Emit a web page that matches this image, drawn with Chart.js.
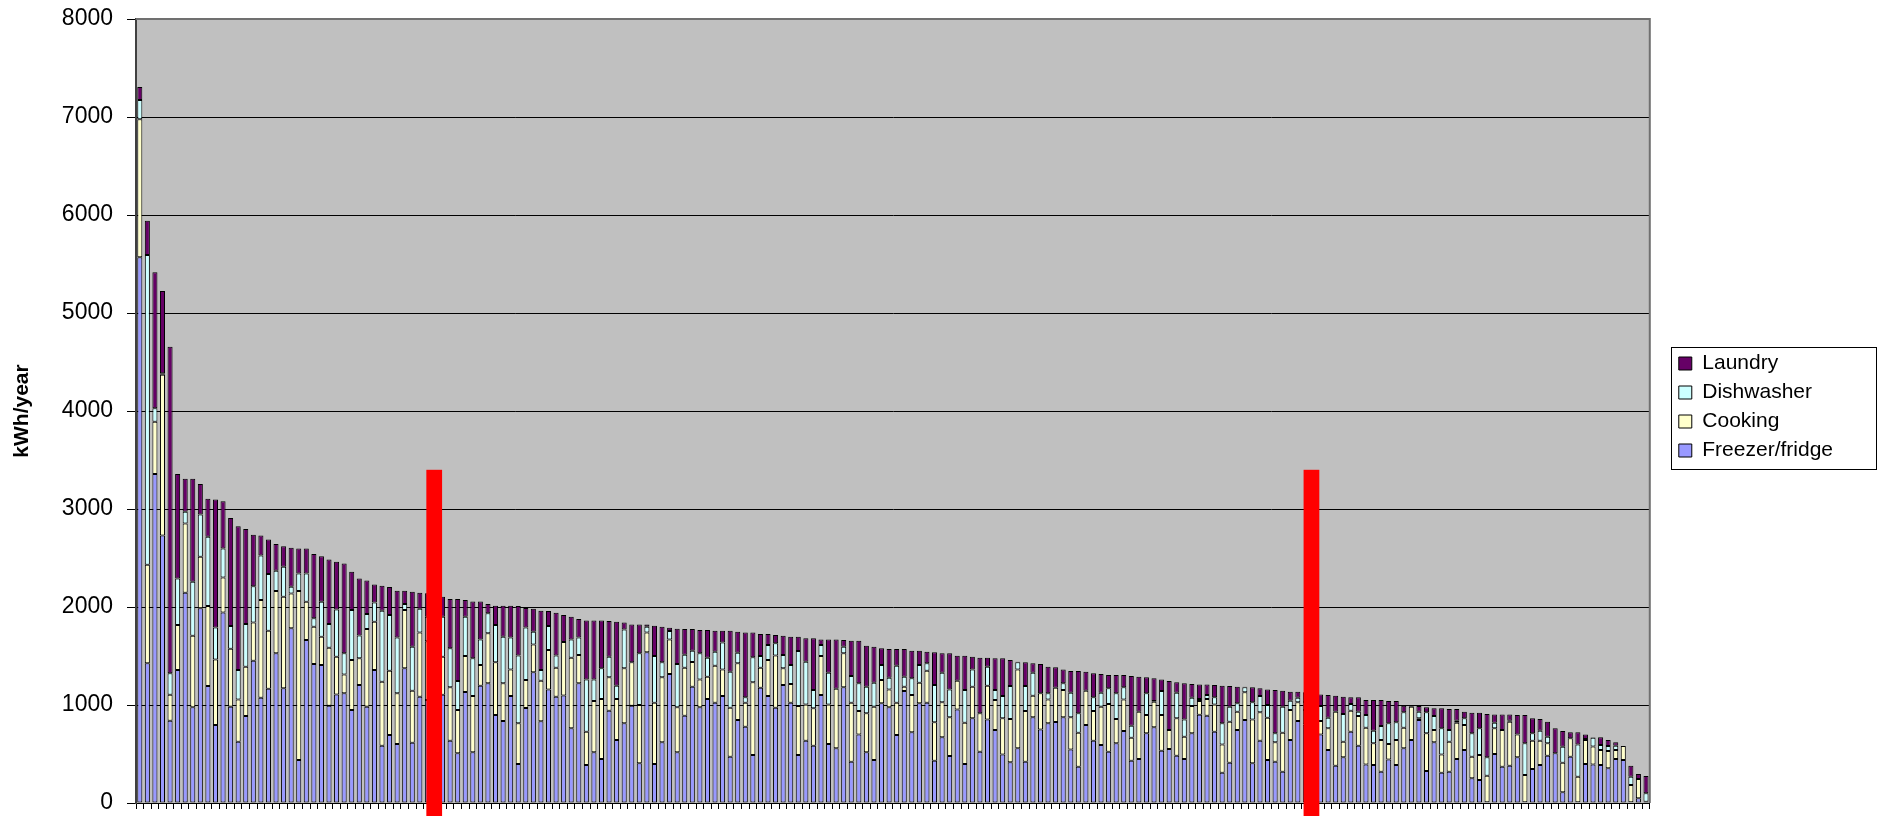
<!DOCTYPE html>
<html>
<head>
<meta charset="utf-8">
<script src="https://cdn.jsdelivr.net/npm/chart.js@4.4.1/dist/chart.umd.min.js"></script>
<style>
  html, body { margin: 0; padding: 0; background: #fff; }
</style>
</head>
<body>
<canvas id="usage" width="1885" height="816"></canvas>
<script>
// households, sorted by total use (200 of them)
const households = Array.from({ length: 200 }, (_, i) => String(i + 1));

const freezer = [
  5568,1425,3356,2730,840,1357,2145,976,1986,1193,796,1945,983,626,887,1452,1074,1166,1527,1170,
  1782,439,1663,1418,1408,993,1108,1119,949,1204,983,1357,585,694,602,1374,615,1085,1050,900,
  1105,636,507,1132,517,1197,1221,898,836,1091,398,969,1333,833,1159,1085,1098,762,1221,388,
  517,449,942,643,813,993,405,1537,398,619,1316,517,891,1187,976,1061,1023,1091,473,847,
  779,490,1176,1091,972,1204,1023,490,636,585,1102,602,558,1180,422,700,517,439,1017,976,
  694,1142,721,1017,1023,432,670,479,955,398,864,524,853,745,496,415,558,422,874,751,
  813,826,874,547,371,796,636,592,524,609,734,432,449,711,772,534,551,483,449,711,
  900,891,728,309,411,745,847,405,636,439,422,320,643,836,800,645,700,541,381,466,
  728,585,394,388,320,445,388,558,643,847,326,619,309,320,449,541,252,235,7,500,
  371,381,466,7,347,388,483,507,109,473,7,398,394,388,354,449,439,7,48,0
];
const cooking = [
  1408,1006,534,1640,265,459,708,731,527,816,669,357,591,431,504,391,997,592,635,935,
  357,1723,391,381,289,591,385,193,510,272,792,493,653,656,517,595,531,656,600,700,
  388,544,442,367,574,211,510,537,385,272,415,286,285,415,402,295,544,720,289,340,
  523,612,340,418,561,442,595,204,625,663,353,459,489,251,285,228,378,272,499,578,
  244,741,204,368,534,170,191,499,370,381,397,404,608,347,601,238,398,544,238,183,
  329,45,381,210,327,391,357,395,293,421,323,391,344,306,368,442,805,516,221,368,
  244,350,279,327,346,350,302,391,486,248,323,234,483,187,262,364,194,381,228,278,
  140,170,278,289,419,187,282,448,289,431,197,397,306,191,150,250,136,221,551,160,
  214,302,374,221,323,157,255,210,340,17,385,126,187,306,371,255,221,255,272,262,
  374,449,234,279,289,248,126,0,302,187,262,245,183,153,176,92,142,177,197,14
];
const dishwasher = [
  197,3161,137,14,218,476,119,551,431,708,327,296,231,300,435,370,455,578,208,306,
  68,181,289,85,357,242,482,215,510,234,153,197,724,568,571,61,449,241,250,300,
  408,398,295,402,385,261,204,381,476,327,693,537,130,109,244,126,0,187,180,533,
  221,313,211,136,397,0,527,58,476,153,85,442,133,116,266,193,143,276,368,108,
  55,255,119,153,123,136,194,561,436,187,113,323,0,68,272,283,272,244,153,119,
  378,102,170,181,75,381,302,285,0,334,176,0,194,102,227,336,72,255,234,0,
  62,0,68,251,198,0,140,142,160,262,123,123,0,221,6,244,0,261,176,85,
  20,41,72,215,153,85,51,174,166,130,92,266,95,47,80,120,153,108,0,282,
  68,45,130,129,142,211,180,157,0,68,214,142,266,119,20,68,238,272,187,57,
  0,10,0,323,75,102,68,0,164,0,329,10,88,51,51,44,0,85,0,85
];
const laundry = [
  133,350,1388,840,3333,1064,336,1050,310,387,1305,482,1102,1468,969,524,204,353,272,210,
  397,255,255,656,465,659,487,918,391,582,343,183,255,285,476,136,561,163,240,220,
  204,503,837,170,581,388,95,197,316,323,503,197,234,605,153,435,276,232,187,602,
  602,489,363,653,72,387,295,23,310,364,34,360,262,221,238,283,214,119,418,215,
  663,255,225,112,85,197,289,147,238,527,57,340,503,68,361,435,418,368,170,293,
  170,282,282,146,119,333,198,368,255,350,130,567,91,323,385,266,7,242,96,299,
  272,208,142,221,431,194,245,191,136,187,126,506,357,163,232,119,499,106,368,140,
  150,108,126,384,210,170,7,153,79,159,442,163,92,62,100,100,119,232,163,177,
  68,146,153,313,266,227,217,68,10,57,51,79,204,214,119,68,210,159,442,85,
  159,64,198,289,153,119,153,255,159,61,123,47,5,78,62,34,0,112,51,176
];

const yTicks = [0, 1000, 2000, 3000, 4000, 5000, 6000, 7000, 8000];

// the two red dividers, centred on a household position, two bars wide
const markerCentres = [38.9, 154.8];
const markerSpan = 2.08;
const markerTop = 3400;

const font = 'Liberation Sans, Arial, sans-serif';

const plotBox = {
  id: 'plotBox',
  afterLayout(chart) {
    // legend sits a little above the vertical centre in the original
    const lg = chart.legend;
    if (lg) { lg.top -= 7; lg.bottom -= 7; }
  },
  beforeDraw(chart) {
    const { ctx, chartArea: a } = chart;
    ctx.save();
    ctx.fillStyle = '#c0c0c0';
    ctx.fillRect(a.left, a.top, a.right - a.left, a.bottom - a.top);
    ctx.restore();
  },
  afterDatasetsDraw(chart) {
    const { ctx, chartArea: a, scales: { x, y } } = chart;
    ctx.save();
    ctx.strokeStyle = '#707070';
    ctx.lineWidth = 2;
    ctx.beginPath();
    ctx.moveTo(a.left, a.top);
    ctx.lineTo(a.right, a.top);
    ctx.lineTo(a.right, a.bottom);
    ctx.stroke();

    // red dividers
    const step = x.getPixelForValue(1) - x.getPixelForValue(0);
    ctx.fillStyle = '#ff0000';
    markerCentres.forEach(c => {
      const mid = x.getPixelForValue(c);
      const top = y.getPixelForValue(markerTop);
      ctx.fillRect(mid - step * markerSpan / 2, top, step * markerSpan, chart.height - top);
    });
    ctx.restore();
  },
  afterDraw(chart) {
    const lg = chart.legend;
    if (!lg || !lg.legendHitBoxes.length) return;
    const hb = lg.legendHitBoxes;
    const first = hb[0], last = hb[hb.length - 1];
    const top = first.top + first.height / 2 - 17;
    const bottom = last.top + last.height / 2 + 18;
    const ctx = chart.ctx;
    ctx.save();
    ctx.strokeStyle = '#000';
    ctx.lineWidth = 1;
    ctx.strokeRect(Math.round(lg.left) + 0.5, Math.round(top) + 0.5, 205, Math.round(bottom - top));
    ctx.restore();
  }
};

const ds = (label, data, colour) => ({
  label: label,
  data: data,
  backgroundColor: colour,
  borderColor: '#000',
  borderWidth: 1,
  borderSkipped: false,
  barPercentage: 0.667,
  categoryPercentage: 1,
  yAxisID: 'y'
});

new Chart(document.getElementById('usage'), {
  type: 'bar',
  data: {
    labels: households,
    datasets: [
      ds('Freezer/fridge', freezer, '#9999ff'),
      ds('Cooking', cooking, '#ffffcc'),
      ds('Dishwasher', dishwasher, '#ccffff'),
      ds('Laundry', laundry, '#660066')
    ]
  },
  options: {
    responsive: false,
    animation: false,
    layout: { padding: { left: 6, top: 19, bottom: 7, right: 42 } },
    plugins: {
      tooltip: { enabled: false },
      legend: {
        position: 'right',
        reverse: true,
        labels: {
          boxWidth: 13,
          boxHeight: 13,
          padding: 8,
          color: '#000',
          font: { family: font, size: 21 }
        }
      }
    },
    scales: {
      x: {
        stacked: true,
        grid: { display: true, drawOnChartArea: false, drawTicks: true, tickLength: 6, color: '#000' },
        border: { display: true, color: '#000', width: 1 },
        ticks: { display: false }
      },
      y: {
        stacked: true,
        min: 0,
        max: 8000,
        afterBuildTicks(s) { s.ticks = yTicks.map(v => ({ value: v })); },
        afterFit(s) { s.width = 130; },
        // long tick slot keeps labels clear of the axis; only the 9px next to the axis is inked
        grid: {
          color: '#000', tickColor: '#000', tickLength: 23, lineWidth: 1,
          tickBorderDash: [9, 14], tickBorderDashOffset: 9
        },
        border: { display: true, color: '#404040', width: 2 },
        ticks: {
          padding: 0,
          color: '#000',
          font: { family: font, size: 23, lineHeight: 1 },
          callback: v => String(v)
        },
        title: {
          display: true,
          text: 'kWh/year',
          color: '#000',
          padding: { top: 4, bottom: 0 },
          font: { family: font, size: 21, weight: 'bold' }
        }
      },
      y2: {
        position: 'right',
        display: true,
        grid: { display: false, drawTicks: false },
        border: { display: false },
        ticks: { display: false },
        afterFit(s) { s.width = 21; }
      }
    }
  },
  plugins: [plotBox]
});
</script>
</body>
</html>
